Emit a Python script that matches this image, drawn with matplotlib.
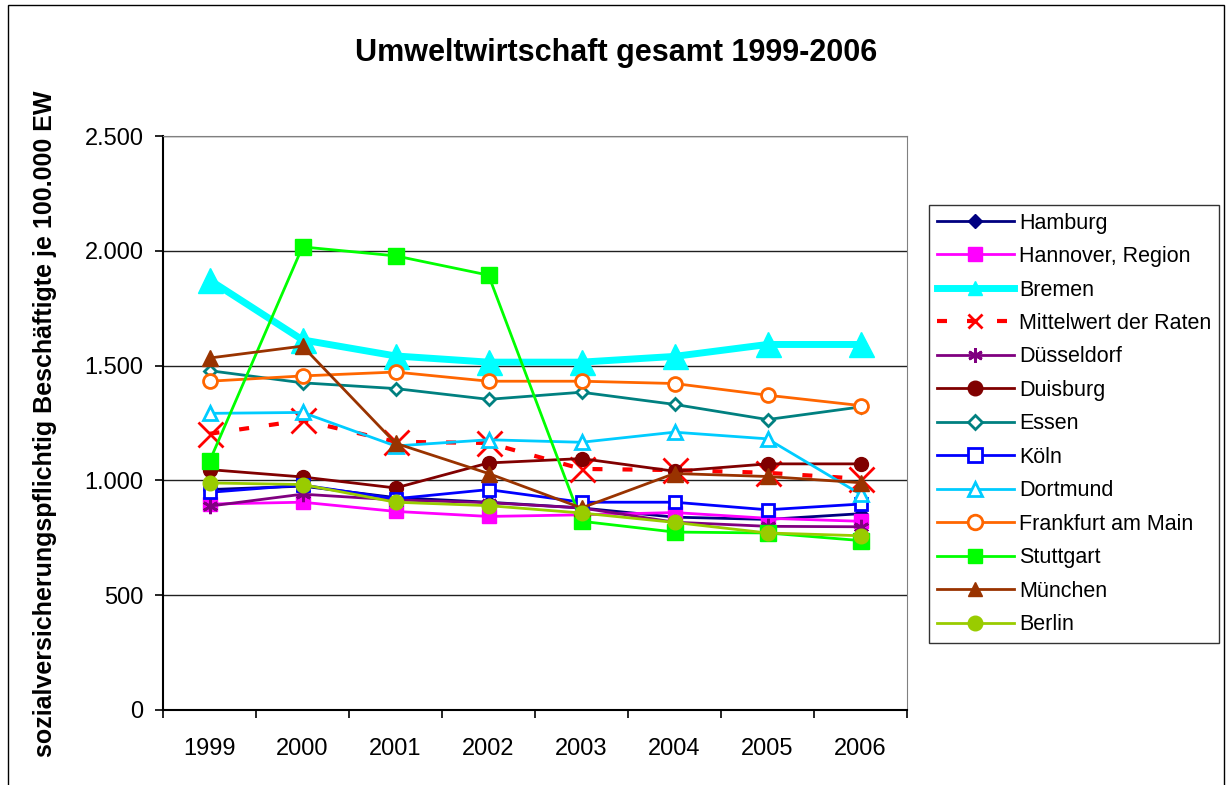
import matplotlib
matplotlib.use("Agg")
import matplotlib.pyplot as plt
from matplotlib.patches import Rectangle
from matplotlib.ticker import FuncFormatter, FixedLocator

plt.rcParams["font.family"] = ["Liberation Sans", "DejaVu Sans"]

YEARS = ["1999", "2000", "2001", "2002", "2003", "2004", "2005", "2006"]

HAMBURG = [960, 975, 925, 905, 880, 840, 830, 855]
HANNOVER = [897, 905, 865, 843, 850, 860, 835, 822]
BREMEN = [1873, 1612, 1542, 1515, 1515, 1540, 1592, 1592]
MITTELWERT = [1203, 1262, 1168, 1163, 1050, 1045, 1033, 1007]
DUESSELDORF = [888, 940, 915, 903, 880, 818, 800, 798]
DUISBURG = [1047, 1015, 967, 1076, 1095, 1040, 1072, 1072]
ESSEN = [1478, 1425, 1400, 1353, 1384, 1331, 1265, 1320]
KOELN = [948, 980, 920, 960, 905, 905, 872, 897]
DORTMUND = [1292, 1296, 1150, 1177, 1166, 1210, 1181, 940]
FRANKFURT = [1432, 1455, 1472, 1432, 1432, 1422, 1371, 1326]
STUTTGART = [1083, 2017, 1978, 1894, 822, 775, 771, 738]
MUENCHEN = [1533, 1585, 1162, 1030, 880, 1030, 1017, 990]
BERLIN = [989, 982, 905, 890, 858, 817, 771, 759]

# (label, values, color, marker, markersize, filled, linewidth, linestyle)
SERIES = [
    ("Hamburg", HAMBURG, "#000080", "D", 7, True, 2, "-"),
    ("Hannover, Region", HANNOVER, "#FF00FF", "s", 10, True, 2, "-"),
    ("Bremen", BREMEN, "#00FFFF", "^", 18, True, 5, "-"),
    ("Mittelwert der Raten", MITTELWERT, "#FF0000", "x", 18, True, 3, "--"),
    ("Düsseldorf", DUESSELDORF, "#800080", (6, 2, 0), 11, True, 2, "-"),
    ("Duisburg", DUISBURG, "#800000", "o", 10, True, 2, "-"),
    ("Essen", ESSEN, "#008080", "D", 6.5, False, 2, "-"),
    ("Köln", KOELN, "#0000FF", "s", 9, False, 2, "-"),
    ("Dortmund", DORTMUND, "#00CCFF", "^", 10, False, 2, "-"),
    ("Frankfurt am Main", FRANKFURT, "#FF6600", "o", 10, False, 2, "-"),
    ("Stuttgart", STUTTGART, "#00FF00", "s", 11, True, 2, "-"),
    ("München", MUENCHEN, "#993300", "^", 11, True, 2, "-"),
    ("Berlin", BERLIN, "#99CC00", "o", 10.5, True, 2, "-"),
]

fig = plt.figure(figsize=(12.27, 7.85), dpi=100)
fig.patches.append(Rectangle((0.0065, -0.01), 0.991, 1.004, transform=fig.transFigure,
                             fill=False, edgecolor="black", linewidth=1))

ax = fig.add_axes([163 / 1227, 1 - 710 / 785, 744 / 1227, 574 / 785])
x = list(range(len(YEARS)))

for label, vals, color, marker, ms, filled, lw, ls in SERIES:
    kw = dict(color=color, marker=marker, markersize=ms, linewidth=lw,
              label=label, markeredgecolor=color)
    if filled:
        kw["markerfacecolor"] = color
    else:
        kw["markerfacecolor"] = "white"
        kw["markeredgewidth"] = 2
    if marker == "x" or marker == (6, 2, 0):
        kw["markeredgewidth"] = 2
    line, = ax.plot(x, vals, **kw)
    if ls == "--":
        line.set_dashes((2.4, 4.8))
        line.set_dash_capstyle("butt")

ax.set_xlim(-0.5, 7.5)
ax.set_ylim(0, 2500)
ax.set_yticks([0, 500, 1000, 1500, 2000, 2500])
ax.yaxis.set_major_formatter(FuncFormatter(lambda v, p: f"{int(v):,}".replace(",", ".")))
ax.set_xticks(x)
ax.set_xticklabels(YEARS)
ax.xaxis.set_minor_locator(FixedLocator([i - 0.5 for i in range(9)]))
ax.tick_params(axis="x", which="major", length=0, pad=20, labelsize=17)
ax.tick_params(axis="x", which="minor", length=6, width=1.2, direction="out")
ax.tick_params(axis="y", length=6, width=1.2, direction="out", pad=8, labelsize=17)
ax.grid(True, axis="y", color="#202020", linewidth=1)
ax.set_axisbelow(True)
for side in ["top", "right"]:
    ax.spines[side].set_color("#808080")
for side in ["left", "bottom"]:
    ax.spines[side].set_linewidth(1.5)

fig.text(0.502, 0.933, "Umweltwirtschaft gesamt 1999-2006", ha="center", va="center",
         fontsize=22, fontweight="bold")
fig.text(0.037, 0.46, "sozialversicherungspflichtig Beschäftigte je 100.000 EW",
         rotation=90, ha="center", va="center", fontsize=18, fontweight="bold")

leg = ax.legend(loc="upper left", bbox_to_anchor=(929 / 1227, 1 - 205 / 785),
                bbox_transform=fig.transFigure, fontsize=15.5, frameon=True,
                fancybox=False, edgecolor="black", handlelength=3.6,
                handletextpad=0.25, labelspacing=0.58, borderpad=0.35,
                borderaxespad=0)
leg.get_frame().set_linewidth(1)
# legend markers are all drawn at about the same size
for h in leg.legend_handles:
    m = h.get_marker()
    h.set_markersize(7.5 if m == "D" else 10.5)

fig.savefig("out.png", dpi=100)
